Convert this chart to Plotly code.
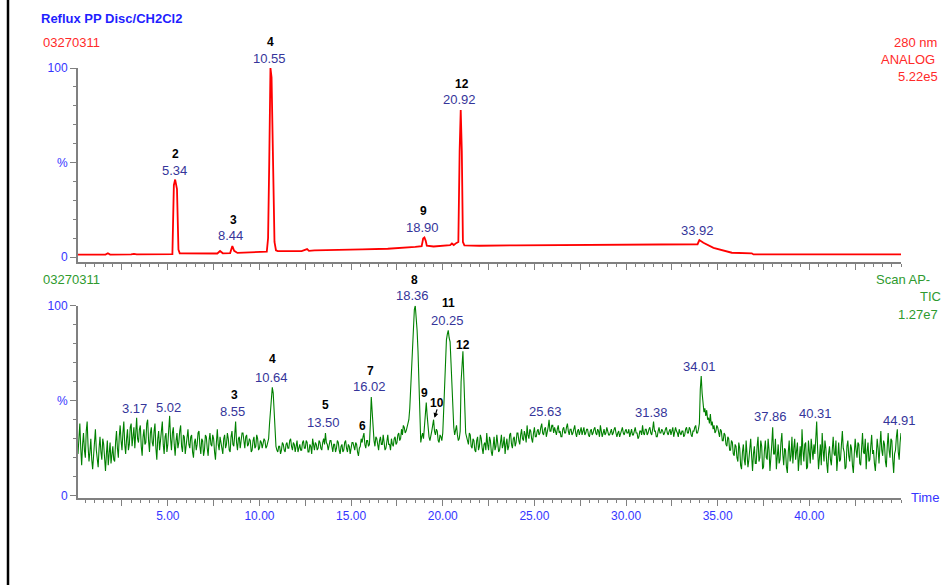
import numpy as np
import plotly.graph_objects as go

# ---------------- data ----------------
# Top trace: UV 280 nm (ANALOG), % of 5.22e5
uv_time = [0.1, 1.6, 1.73, 1.85, 3.0, 3.15, 3.3, 3.9, 4.05, 4.2, 5.25, 5.33, 5.4, 5.5, 5.58, 5.65,
           7.7, 7.85, 8.0, 8.4, 8.52, 8.62, 8.72, 8.8, 10.4, 10.47, 10.53, 10.6, 10.66, 10.76,
           10.82, 10.9, 11.0, 12.3, 12.6, 12.7, 13.0, 15.6, 17.0, 18.5, 18.85, 18.93, 19.0,
           19.07, 19.13, 19.5, 20.0, 20.4, 20.5, 20.6, 20.75, 20.85, 20.92, 20.98, 21.04, 21.1,
           21.18, 22.0, 24.0, 28.0, 33.9, 34.0, 34.22, 34.77, 35.31, 35.77, 36.86, 36.95, 45.0]
uv_pct = [1.3, 1.3, 2.0, 1.3, 1.4, 1.7, 1.4, 1.4, 1.7, 1.4, 1.6, 38, 41, 36, 4, 2.0,
          1.9, 3.2, 2.0, 2.1, 5.8, 3.3, 2.6, 2.2, 2.9, 10, 48, 100, 95, 48,
          8, 3.6, 3.2, 3.2, 4.2, 3.3, 3.6, 4.1, 4.4, 5.4, 5.8, 9.8, 10.4,
          8.6, 6.0, 5.6, 5.8, 6.3, 7.2, 6.4, 7.5, 8.0, 56, 77.8, 56, 8,
          6.2, 6.0, 6.2, 6.5, 6.8, 9.0, 7.6, 4.9, 3.7, 2.3, 2.0, 1.4, 1.4]

# Bottom trace: Scan AP- TIC, % of 1.27e7, one reading every 0.05 min from 0.1 min
tic_t0 = 0.1
tic_dt = 0.05
tic_pct = [
    22, 31, 38, 25, 16, 27, 33, 24, 20, 34, 39, 26, 18, 23, 30, 19, 14, 21, 28, 35,
    24, 18, 15, 25, 31, 23, 19, 30, 27, 20, 13, 22, 29, 16, 21, 28, 17, 24, 26, 19,
    18, 28, 34, 25, 20, 31, 37, 29, 24, 33, 39, 27, 22, 30, 35, 24, 27, 36, 38, 26,
    30, 36, 25, 33, 41, 30, 28, 35, 37, 26, 21, 31, 35, 27, 28, 38, 40, 29, 23, 33,
    36, 28, 26, 34, 38, 25, 19, 30, 34, 24, 29, 36, 39, 27, 22, 31, 33, 23, 27, 35,
    42, 30, 24, 33, 36, 27, 21, 29, 33, 25, 28, 34, 37, 26, 23, 32, 31, 22, 26, 33,
    35, 27, 25, 31, 32, 23, 20, 28, 30, 24, 27, 33, 34, 26, 22, 30, 29, 21, 24, 32,
    31, 25, 21, 29, 33, 27, 26, 32, 30, 23, 19, 28, 35, 27, 24, 31, 28, 23, 22, 30,
    32, 25, 27, 33, 30, 24, 23, 31, 34, 27, 26, 32, 39, 28, 24, 30, 31, 25, 28, 33,
    33, 27, 25, 31, 32, 26, 27, 30, 29, 23, 24, 29, 31, 25, 26, 32, 30, 24, 25, 29,
    28, 25, 27, 30, 29, 25, 26, 29, 30, 38, 45, 52, 57, 54, 44, 33, 26, 24, 23, 26,
    26, 22, 24, 28, 27, 24, 23, 27, 28, 25, 25, 29, 30, 26, 24, 28, 27, 23, 26, 29,
    23, 26, 27, 24, 24, 28, 29, 25, 25, 29, 28, 23, 23, 27, 26, 22, 30, 27, 24, 28,
    27, 24, 25, 29, 28, 25, 24, 28, 30, 27, 33, 28, 27, 24, 26, 29, 29, 25, 23, 27,
    27, 23, 25, 29, 28, 24, 22, 26, 27, 23, 24, 28, 29, 25, 23, 27, 26, 22, 25, 28,
    28, 25, 24, 28, 27, 23, 21, 25, 26, 30, 28, 31, 33, 27, 25, 29, 29, 26, 27, 38,
    52, 44, 33, 29, 26, 31, 30, 25, 24, 29, 31, 27, 27, 32, 29, 24, 25, 30, 32, 27,
    27, 24, 30, 27, 26, 30, 31, 27, 28, 32, 33, 29, 30, 35, 32, 37, 36, 33, 34, 36,
    38, 40, 46, 58, 70, 82, 93, 98, 100, 95, 87, 76, 55, 34, 28, 31, 33, 30, 36, 44,
    49, 42, 35, 31, 29, 33, 34, 37, 40, 34, 32, 35, 34, 29, 28, 32, 31, 29, 33, 45,
    58, 70, 82, 85, 87, 83, 81, 70, 58, 46, 36, 32, 35, 37, 32, 29, 30, 34, 60, 72,
    76, 62, 42, 33, 31, 28, 27, 33, 32, 26, 25, 30, 29, 24, 23, 29, 31, 24, 26, 32,
    30, 25, 22, 27, 28, 24, 33, 27, 24, 31, 29, 23, 21, 26, 31, 24, 26, 32, 28, 23,
    24, 29, 32, 25, 27, 31, 22, 27, 30, 24, 26, 32, 33, 27, 25, 30, 31, 26, 28, 33,
    33, 29, 27, 32, 35, 30, 29, 34, 32, 28, 37, 32, 30, 35, 34, 30, 28, 33, 36, 31,
    31, 34, 35, 32, 33, 36, 38, 33, 32, 35, 36, 31, 33, 36, 40, 34, 34, 37, 37, 33,
    36, 33, 32, 35, 37, 33, 34, 31, 31, 35, 36, 33, 33, 36, 38, 34, 32, 35, 35, 32,
    33, 35, 37, 33, 31, 34, 35, 32, 34, 36, 32, 34, 36, 32, 33, 35, 35, 32, 31, 34,
    35, 32, 33, 35, 36, 33, 32, 35, 34, 31, 37, 34, 31, 33, 35, 32, 33, 36, 34, 32,
    32, 34, 35, 32, 33, 35, 36, 33, 31, 33, 34, 31, 33, 35, 36, 33, 32, 34, 35, 33,
    33, 35, 31, 33, 35, 32, 32, 34, 36, 33, 33, 30, 31, 34, 34, 32, 37, 33, 32, 35,
    35, 32, 33, 35, 36, 33, 32, 35, 39, 34, 34, 31, 31, 34, 36, 33, 33, 35, 34, 32,
    33, 35, 36, 33, 32, 34, 35, 32, 34, 36, 31, 33, 36, 34, 33, 31, 35, 33, 32, 34,
    34, 31, 32, 35, 36, 33, 33, 36, 35, 32, 31, 34, 34, 36, 37, 33, 33, 35, 38, 56,
    63, 54, 49, 44, 46, 42, 45, 40, 41, 38, 43, 37, 39, 35, 37, 33, 34, 37, 36, 32,
    31, 35, 34, 29, 29, 33, 32, 27, 26, 31, 30, 24, 24, 29, 28, 22, 21, 27, 26, 20,
    18, 28, 25, 16, 14, 23, 27, 19, 16, 29, 24, 15, 19, 26, 30, 21, 13, 22, 26, 17,
    17, 26, 31, 18, 20, 29, 26, 14, 15, 24, 29, 20, 19, 30, 24, 13, 18, 27, 36, 22,
    22, 30, 14, 21, 27, 17, 19, 28, 33, 22, 16, 25, 24, 15, 12, 23, 29, 18, 21, 31,
    17, 25, 30, 19, 23, 28, 13, 21, 26, 16, 35, 24, 18, 27, 28, 14, 15, 29, 24, 17,
    30, 21, 19, 27, 22, 30, 39, 25, 14, 20, 27, 16, 33, 24, 18, 29, 25, 17, 12, 22,
    26, 19, 16, 24, 31, 22, 21, 29, 13, 20, 28, 18, 19, 27, 34, 25, 23, 14, 15, 26,
    29, 21, 18, 27, 25, 16, 12, 22, 30, 24, 20, 28, 27, 17, 16, 25, 33, 23, 22, 30,
    14, 23, 28, 18, 19, 26, 32, 22, 24, 17, 13, 21, 30, 25, 17, 26, 34, 24, 21, 29,
    27, 18, 15, 26, 33, 24, 20, 30, 29, 19, 12, 22, 24, 31, 35, 23, 19, 28, 33,
]
tic_time = np.round(tic_t0 + tic_dt * np.arange(len(tic_pct)), 3)

# Peak labels: (text, time, % height, kind)  kind: "num" = peak number, "rt" = retention time
uv_labels = [
    ("2", 5.44, 54.5, "num"), ("5.34", 5.34, 46.0, "rt"),
    ("3", 8.58, 19.6, "num"), ("8.44", 8.44, 11.2, "rt"),
    ("4", 10.62, 113.9, "num"), ("10.55", 10.55, 105.1, "rt"),
    ("9", 18.94, 24.5, "num"), ("18.90", 18.90, 15.6, "rt"),
    ("12", 21.07, 91.4, "num"), ("20.92", 20.92, 83.1, "rt"),
    ("33.92", 33.92, 14.3, "rt"),
]
tic_labels = [
    ("3.17", 3.17, 46.1, "rt"), ("5.02", 5.02, 46.4, "rt"),
    ("3", 8.63, 53.1, "num"), ("8.55", 8.55, 44.3, "rt"),
    ("4", 10.71, 71.8, "num"), ("10.64", 10.64, 62.2, "rt"),
    ("5", 13.62, 47.5, "num"), ("13.50", 13.50, 38.5, "rt"),
    ("6", 15.64, 36.8, "num"),
    ("7", 16.04, 65.8, "num"), ("16.02", 16.02, 57.4, "rt"),
    ("8", 18.44, 113.5, "num"), ("18.36", 18.36, 105.3, "rt"),
    ("9", 19.02, 54.0, "num"), ("10", 19.71, 49.0, "num"),
    ("11", 20.31, 101.3, "num"), ("20.25", 20.25, 92.1, "rt"),
    ("12", 21.13, 79.3, "num"),
    ("25.63", 25.63, 44.3, "rt"), ("31.38", 31.38, 43.8, "rt"),
    ("34.01", 34.01, 67.9, "rt"), ("37.86", 37.86, 41.7, "rt"),
    ("40.31", 40.31, 43.5, "rt"), ("44.91", 44.91, 39.8, "rt"),
]
peak10_arrow = (19.55, 41.0)

x_label_vals = [5, 10, 15, 20, 25, 30, 35, 40]
x_major_ticks = [2.5 * k for k in range(1, 18)]

# ---------------- styling ----------------
FONT = "Liberation Sans, Arial, sans-serif"
AXIS_GREY = "#808080"
TICK_BLUE = "#3535ff"
RT_NAVY = "#35359a"
RED = "#ff0000"
RED_TXT = "#ff2a2a"
GREEN = "#008000"
GREEN_TXT = "#2e9a2e"

W, H = 952, 585
ML, MR, MT, MB = 78, 51, 68, 87
PH = H - MT - MB
PW = W - ML - MR


def py(ypix):
    return (H - MB - ypix) / PH


def px(xpix):
    return (xpix - ML) / PW


top_range = [-2.6, 100]
bot_range = [-1.2, 100]
top_dom = [py(262), 1]
bot_dom = [0, py(305.7)]
top_ppu = (top_dom[1] - top_dom[0]) * PH / (top_range[1] - top_range[0])
bot_ppu = (bot_dom[1] - bot_dom[0]) * PH / (bot_range[1] - bot_range[0])

fig = go.Figure()
fig.add_trace(go.Scatter(x=uv_time, y=uv_pct, mode="lines",
                         line=dict(color=RED, width=1.8), xaxis="x", yaxis="y",
                         showlegend=False, hoverinfo="skip"))
fig.add_trace(go.Scatter(x=tic_time, y=tic_pct, mode="lines",
                         line=dict(color=GREEN, width=1.1), xaxis="x2", yaxis="y2",
                         showlegend=False, hoverinfo="skip"))

xcommon = dict(range=[0.1, 45.0], showgrid=False, zeroline=False, showline=True,
               linecolor=AXIS_GREY, linewidth=2, ticks="outside", tickmode="array",
               tickvals=x_major_ticks, ticklen=6, tickwidth=1, tickcolor=AXIS_GREY,
               minor=dict(dtick=0.5, tick0=0, ticklen=3, tickwidth=1,
                          tickcolor=AXIS_GREY, ticks="outside", showgrid=False),
               tickfont=dict(family=FONT, size=12, color=TICK_BLUE))
ycommon = dict(showgrid=False, zeroline=False, showline=True, linecolor=AXIS_GREY,
               linewidth=2, ticks="outside", tickmode="array", tickvals=[0, 50, 100],
               ticktext=["0", "%", "100"], ticklen=6, tickwidth=1, tickcolor=AXIS_GREY,
               minor=dict(dtick=10, tick0=0, ticklen=3, tickwidth=1,
                          tickcolor=AXIS_GREY, ticks="outside", showgrid=False),
               tickfont=dict(family=FONT, size=12, color=TICK_BLUE))

xtext = ["%.2f" % v if v in x_label_vals else "" for v in x_major_ticks]

fig.update_layout(
    width=W, height=H, margin=dict(l=ML, r=MR, t=MT, b=MB, pad=0),
    paper_bgcolor="white", plot_bgcolor="white",
    xaxis=dict(xcommon, domain=[0, 1], anchor="y", showticklabels=False),
    yaxis=dict(ycommon, domain=top_dom, range=top_range, anchor="x"),
    xaxis2=dict(xcommon, domain=[0, 1], anchor="y2", ticktext=xtext, showticklabels=True),
    yaxis2=dict(ycommon, domain=bot_dom, range=bot_range, anchor="x2"),
)

ann = []
for lbls, xr, yr, ppu in ((uv_labels, "x", "y", top_ppu), (tic_labels, "x2", "y2", bot_ppu)):
    for text, t, yv, kind in lbls:
        if kind == "num":
            f = dict(family=FONT, size=12, color="black")
            text = "<b>%s</b>" % text
        else:
            f = dict(family=FONT, size=13, color=RT_NAVY)
        yshift = 0
        if yv > 100:  # keep the anchor inside the axis range, lift by pixels
            yshift = (yv - 100) * ppu
            yv = 100
        ann.append(dict(text=text, x=t, y=yv, xref=xr, yref=yr, showarrow=False,
                        xanchor="center", yanchor="middle", yshift=yshift, font=f))
ann.append(dict(text="", x=peak10_arrow[0], y=peak10_arrow[1], xref="x2", yref="y2",
                showarrow=True, arrowhead=2, arrowsize=0.8, arrowwidth=1.2,
                arrowcolor="black", ax=3, ay=-10))

hdr = [
    ("<b>Reflux PP Disc/CH2Cl2</b>", 39, 18, "left", 13, "#1f1fff"),
    ("03270311", 41, 42.5, "left", 13, RED_TXT),
    ("280 nm", 939, 42, "right", 13, RED_TXT),
    ("ANALOG", 937, 59, "right", 13, RED_TXT),
    ("5.22e5", 940, 76.5, "right", 13, RED_TXT),
    ("03270311", 41, 279, "left", 13, GREEN_TXT),
    ("Scan AP-", 932, 279, "right", 13, GREEN_TXT),
    ("TIC", 943, 296.5, "right", 13, GREEN_TXT),
    ("1.27e7", 940, 314, "right", 13, GREEN_TXT),
    ("Time", 909, 497, "left", 13, TICK_BLUE),
]
for text, xp, yp, anc, size, col in hdr:
    ann.append(dict(text=text, x=px(xp), y=py(yp), xref="paper", yref="paper",
                    showarrow=False, xanchor=anc, yanchor="middle",
                    font=dict(family=FONT, size=size, color=col)))
fig.update_layout(annotations=ann)

fig.add_shape(type="line", xref="paper", yref="paper", x0=px(8), x1=px(8),
              y0=py(H), y1=py(0), line=dict(color="black", width=2.5))

fig.write_html("out.html")
